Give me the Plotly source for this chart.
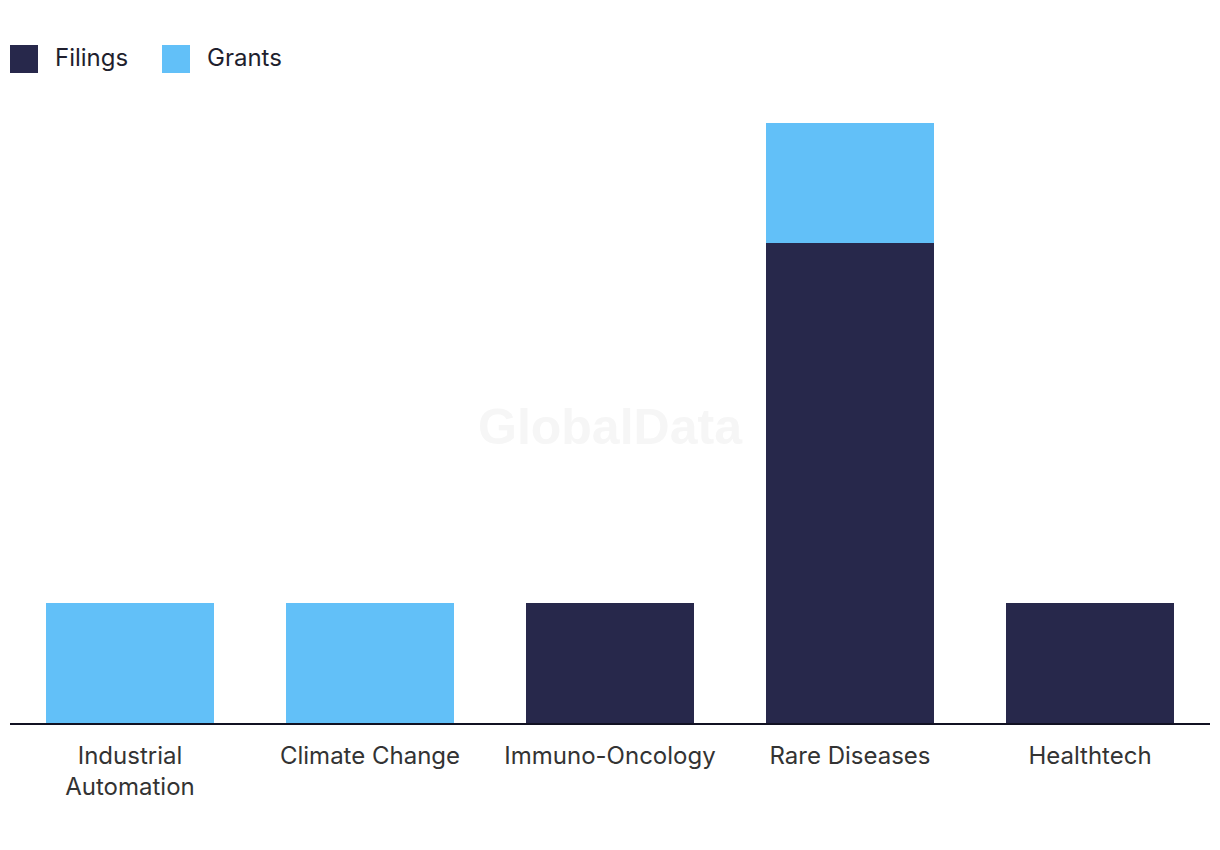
import plotly.graph_objects as go

categories = ["Industrial<br>Automation", "Climate Change", "Immuno-Oncology", "Rare Diseases", "Healthtech"]
filings = [0, 0, 1, 4, 1]
grants = [1, 1, 0, 1, 0]
series_names = ["Filings", "Grants"]
colors = ["#27284B", "#62C0F8"]

# page offset of 8px (body margin); target coords from the screenshot
OFF = 8
PL, PR, PT, PB = 10 - OFF, 1210 - OFF, 123 - OFF, 723 - OFF
PW, PH = PR - PL, PB - PT

def px(x):
    return (x - OFF - PL) / PW

def py(y):
    return (PB - (y - OFF)) / PH

fig = go.Figure()
fig.add_trace(go.Bar(x=categories, y=filings, name=series_names[0], marker_color=colors[0],
                     marker_line_width=0, showlegend=False))
fig.add_trace(go.Bar(x=categories, y=grants, name=series_names[1], marker_color=colors[1],
                     marker_line_width=0, showlegend=False))

# custom legend (large squares)
legend_x = [10, 162]
for i, (nm, col) in enumerate(zip(series_names, colors)):
    x0 = legend_x[i]
    fig.add_shape(type="rect", xref="paper", yref="paper",
                  x0=px(x0), x1=px(x0 + 28), y0=py(73), y1=py(45),
                  fillcolor=col, line_width=0)
    fig.add_annotation(text=nm, xref="paper", yref="paper",
                       x=px(x0 + 43), y=py(58),
                       xanchor="left", yanchor="middle", showarrow=False,
                       font=dict(size=24, color="#1f1f2e", family="Inter"))

fig.add_annotation(text="<b>GlobalData</b>", xref="paper", yref="paper",
                   x=px(610), y=py(427), showarrow=False,
                   font=dict(size=50, color="#f6f6f6", family="Liberation Sans"))

fig.update_layout(
    barmode="stack",
    bargap=0.3,
    width=1220, height=850,
    margin=dict(l=PL, r=1220 - PR, t=PT, b=850 - PB),
    plot_bgcolor="white", paper_bgcolor="white",
    font=dict(family="Inter", color="#333333", size=24),
)
fig.update_xaxes(showline=True, linecolor="#111122", linewidth=2, ticks="outside",
                 ticklen=10, tickcolor="rgba(0,0,0,0)", tickfont=dict(size=24, color="#333333"),
                 showgrid=False)
fig.update_yaxes(range=[0, 5], visible=False, showgrid=False)

fig.write_html("out.html")
